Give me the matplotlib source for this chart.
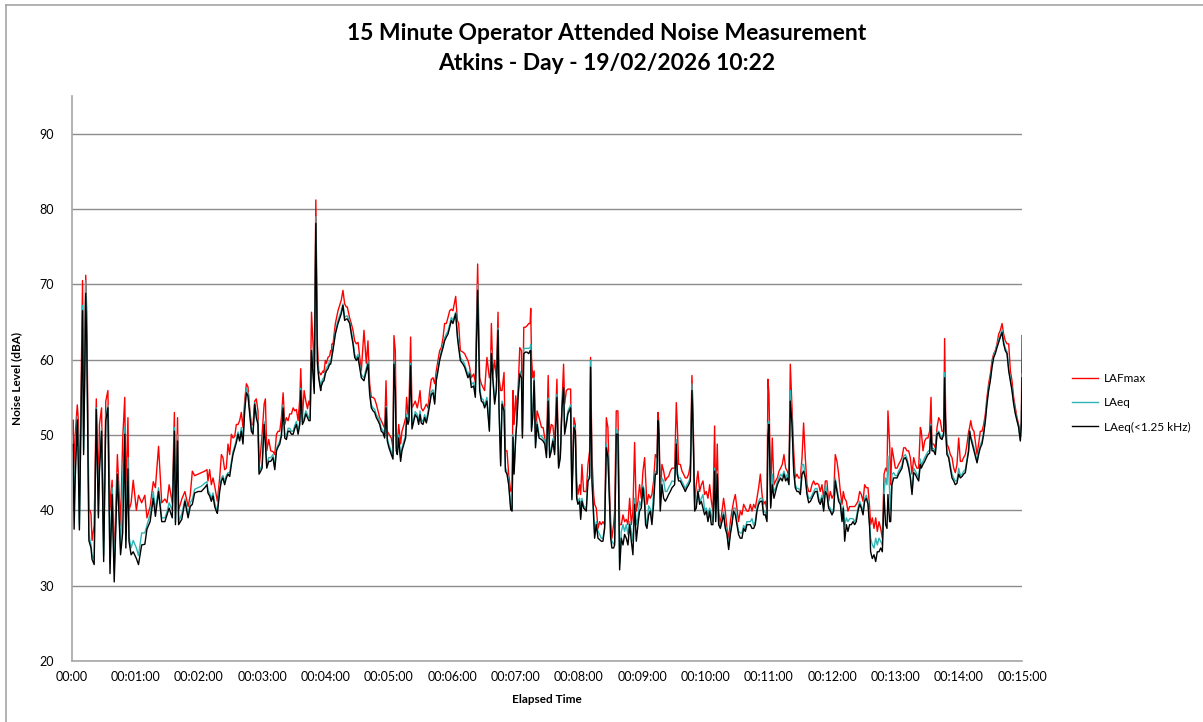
import matplotlib
matplotlib.use('Agg')
import matplotlib.pyplot as plt
from matplotlib.lines import Line2D
from matplotlib.ticker import FixedLocator, FuncFormatter

t_sec = [
    0, 1, 2, 3, 5, 6, 7, 8, 10, 11, 12, 13, 14, 16, 17, 18, 19, 21, 23, 25,
    26, 28, 30, 32, 34, 36, 38, 40, 43, 46, 48, 50, 51, 53, 54, 56, 58, 61, 63, 66,
    69, 71, 74, 77, 79, 82, 85, 88, 90, 92, 95, 97, 98, 100, 101, 104, 107, 110, 112, 114,
    116.2, 119.4, 122.5, 125.7, 127.9, 128.8, 130.4, 132, 133.6, 135.2, 136.7, 137.7, 139.9, 141.5, 143, 144.6, 146.2, 147.8, 149.4, 151,
    152.5, 154.1, 155.7, 157.3, 158.8, 160.4, 162, 163.6, 165.2, 166.7, 168.3, 169.9, 171.5, 173.1, 174.6, 176.2, 177.2, 178.8, 180.1, 182,
    183.2, 184.5, 186.4, 188.3, 190.4, 192.1, 193.7, 195.2, 196.8, 198.4, 200, 201.6, 203.1, 204.7, 206.3, 207.9, 209.5, 211.1, 212.6, 214.2,
    215.8, 216.7, 218.3, 219.9, 221.5, 223.1, 224.4, 225.6, 226.9, 228.5,
    229.5, 231, 232.5, 233.7, 235.6, 236.2, 237.8, 238.7, 240, 241, 242.5, 244.1, 245, 245.7, 246.3, 247.2, 249.5, 252, 255.1, 256.7,
    258.3, 259.9, 260.8, 263.1, 264.6, 266.2, 267.8, 269.4, 271, 274.1, 276.6, 278.8, 280.4, 282, 283.6, 285.2, 286.7, 288.3, 289.9, 291.5,
    293, 294.6, 296.2, 297.5, 298.7, 300.3, 302.5, 304.1, 305, 306.3, 307.2, 308.2, 309.5, 311.3, 312.6, 314.5, 316.1, 317, 318.3, 319.2,
    320.8, 322.1, 323.9, 325.2, 327.1, 328.4, 329.7, 330.9, 332.5, 334.1, 335.7, 337.3, 338.9, 340.4, 342,
    343.6, 345.1, 346.7, 348.3, 349.9, 351.5, 353, 354.6, 356.2, 357.8, 359.4, 360.9, 363.5, 365.1, 366.3, 367.9, 370.4, 372, 373.6, 375.1,
    376.7, 378.3, 380.5, 382.1, 384.3, 386.2, 387.8, 389.4, 390.9, 393.1, 395.4, 396.3, 397.3, 398.8, 400.4, 402, 403.6, 404.5, 406.1, 407.4,
    409.3, 410.6, 412.1, 413.7, 415.6, 416.9, 417.8, 418.8, 420.4, 421.3, 422.6, 424.2, 425.8, 426.7, 428, 429.6, 431.1, 432.7, 434, 434.6,
    435.3, 436.5, 437.8, 439.1, 440.6, 442.5, 444.8, 446.3, 447.9, 449.5, 451.1,
    452.5, 454.1, 455.6, 457.2, 459.4, 461, 462.6, 464.2, 465.7, 466.7, 468.3, 469.8, 472.4, 473.6, 475.5, 476.8, 478.1, 479.3, 480.9, 481.9,
    483.1, 484.7, 487.2, 488.8, 490.4, 491.3, 492.6, 494.2, 495.1, 496.7, 498.3, 499.9, 501.4, 503, 504.6, 506.2, 507.7, 509.3, 510.3, 511.5,
    513.1, 514.1, 515.6, 517.2, 518.8, 520.4, 522, 523.5, 525.1, 526.7, 528.3, 529.9, 531.4, 533, 534.6, 536.2, 537.7, 539.3, 540.9, 542.5,
    543.4, 544.7, 546.3, 547.8, 549.4, 551, 552.6, 554.2, 555.1, 556.1, 557.3, 558.9, 560.5, 562.1, 563.6, 565.2, 566.8, 568.4,
    570.9, 572.5, 573.4, 574.7, 576.3, 577.9, 579.4, 581, 582.6, 584.2, 585.8, 587.3, 588.3, 589.9, 591.4, 593, 594.6, 596.2, 597.8, 599.3,
    600.9, 602.5, 604.1, 605.7, 607.2, 608.8, 609.8, 611.3, 612.6, 614.2, 615.8, 617.3, 618.9, 620.5, 622.1, 623.7, 625.2, 626.8, 628.4, 630,
    631.5, 633.1, 634.7, 636.3, 637.9, 639.4, 641, 642.6, 644.2, 645.8, 647.3, 648.9, 650.5, 652.1, 653.7, 655.2, 656.8, 658.4, 659.3, 660.3,
    661.9, 663.4, 665, 666.6, 668.2, 669.8, 671.3, 672.9, 674.5, 676.1, 677.7, 679.2, 680.5, 682.1,
    683.7, 685.2, 686.8, 688.4, 690, 691.6, 693.1, 694.7, 696.3, 697.9, 699.5, 701, 702.6, 704.2, 705.8, 707.4, 708.9, 710.5, 712.1, 713.7,
    715.2, 716.8, 718.4, 720, 721.6, 723.1, 724.7, 726.3, 727.9, 729.5, 730.7, 732, 733.6, 735.1, 736.7, 738.3, 739.9, 741.5, 743, 744.6,
    746.2, 747.8, 749.4, 750.9, 752.5, 754.1, 755.7, 756.6, 758.2, 759.8, 761.4, 762.9, 764.5, 766.1, 767.7, 769.3, 770.8, 772.1, 773, 774.6,
    775.6, 776.8, 778.4, 780, 781.6, 783.1, 784.7, 786.3, 787.9, 789.5, 791, 792.6, 794.2, 795.8,
    797.4, 798.9, 800.5, 802.1, 803.7, 804.6, 806.2, 807.8, 809.4, 810.9, 812.5, 813.8, 814.7, 816.3, 817.9, 819.5, 821.1, 822.6, 824.2, 825.8,
    826.7, 827.7, 828.9, 830.5, 832.1, 833.7, 835.3, 836.8, 838.4, 840, 841.6, 843.2, 844.7, 846.3, 847.9, 849.5, 850.4, 851.4, 852.9, 854.5,
    856.1, 857.4, 858.9, 860.5, 862.1, 863.7, 865.3, 866.8, 868.4, 870, 871.6, 873.2, 874.7, 876.3, 877.9, 879.5, 881.1, 882.6, 884.2, 885.8,
    887.4, 889, 890.5, 892.1, 893.7, 895.3, 896.8, 898.4, 899.4, 900,
]

lafmax = [
    50, 52, 45, 50, 54, 52, 42, 50, 70.5, 50, 60, 71.2, 66, 40, 40, 39.5, 36, 38, 54.8, 42,
    51.4, 53.6, 36, 54.5, 55.9, 40, 44, 33.6, 47.4, 38, 49.4, 55, 42, 52.3, 40, 41, 44, 40, 42, 41,
    42, 39, 40.5, 43.8, 43, 48.5, 41, 41.5, 41, 43.4, 41, 53, 40, 52.3, 40, 41.5, 42.5, 40.5, 42, 45.2,
    44.6, 44.8, 45, 45.2, 45.4, 43.9, 45.4, 43.4, 44.3, 43.2, 42, 41.2, 44.3, 47.4, 47, 45.4, 45.6, 48.8, 47.4, 50.1,
    49.6, 49.8, 51.4, 51.4, 51.9, 53, 51, 54.5, 56.8, 56.4, 53.6, 51.4, 51.4, 54.5, 54.8, 53.2, 45.6, 47.9, 50.1, 54.1,
    54.8, 47.9, 49.4, 47.9, 47.8, 47.4, 50.1, 50.5, 50.5, 52.3, 55.6, 51.4, 52.3, 51.9, 52.8, 52.8, 53.6, 53.2, 53.4, 51.9,
    54.8, 58.8, 52.3, 55.9, 54.5, 53.5, 54.5, 54, 66.3, 61.6,
    59, 81.2, 62, 58.5, 58, 58.1, 58.5, 58.3, 59.9, 59.5, 60.3, 60.5, 61.2, 61, 62.1, 62, 64.8, 66.5, 67.9, 69.2,
    67.4, 67, 67, 65.5, 64.8, 63.9, 62.5, 62.1, 62.3, 58.5, 63.9, 59.5, 62.5, 56.8, 55, 55, 54.8, 54.1, 53.2, 52.3,
    51.9, 51.4, 50.9, 57.2, 50.5, 50.1, 49.6, 48.3, 63.2, 61.2, 50.1, 48.8, 51.4, 48.8, 50.5, 51.4, 52.3, 55, 52.7, 53.6,
    63, 53.6, 54.1, 54.5, 53.6, 54.5, 55.9, 53.6, 53.2, 53.6, 54.1, 53.6, 55.9, 57.4, 57.6,
    56.8, 58.5, 59.9, 61.2, 61.6, 62.9, 64.8, 64.8, 65.6, 66.5, 66.7, 66.5, 68.4, 65.2, 64.8, 61.2, 61, 60.8, 60.3, 59.9,
    59, 57.6, 58.1, 57, 72.7, 57.6, 56.8, 56.3, 55.9, 60.3, 57.6, 57.6, 64.8, 58, 59.9, 57.6, 66.3, 57.6, 55.9, 55.9,
    58.3, 47.9, 47.9, 44.8, 42.5, 43, 55.9, 51.4, 55.2, 52.5, 56, 61.6, 61.2, 50.5, 64.3, 64.3, 64.5, 64.8, 64.8, 66.8,
    60.3, 57.6, 58.5, 49.6, 53.2, 52.3, 51, 51, 49.6, 47.9, 57.9,
    50.1, 51.4, 51.2, 48.8, 57.4, 46.1, 47.4, 54.1, 59.4, 54.1, 55.9, 56.1, 56.1, 42.5, 52.3, 51.4, 43.9, 42.1, 43.4, 42.1,
    46.1, 42.5, 42.5, 46.1, 47.9, 60.3, 47, 42.1, 40.8, 40.3, 37.6, 38.5, 38.1, 38.5, 38.1, 52.3, 51, 42.5, 38.5, 36.3,
    38.1, 39.9, 53.2, 53.2, 38.1, 38.1, 39.4, 38.5, 38.8, 38.1, 41.6, 38.1, 39.9, 49, 39.9, 41.2, 43.4, 41.6, 45.2, 47,
    44.3, 40.8, 42.1, 41.6, 42.1, 43.9, 47.4, 47, 53, 51.4, 41.6, 46.1, 45.2, 43.9, 44.3, 44.5, 45.2, 45.6,
    45.6, 54.3, 51.4, 46.1, 46.1, 45.2, 44.8, 44.3, 44.3, 44.8, 46.1, 57.9, 53.6, 40.8, 43.4, 45.2, 42.5, 43.4, 43.9, 42.1,
    42.5, 41.6, 43.4, 41.2, 39.9, 51.2, 40.3, 48.8, 39.9, 38.1, 39.9, 41.6, 39.9, 37.6, 36.3, 38.5, 39.9, 41.2, 42.1, 40.3,
    38.5, 39.9, 39.4, 40.8, 40.3, 39.9, 39.9, 40.8, 39.9, 40.8, 40.3, 41.6, 43, 44.8, 42.1, 40.8, 41.2, 39.9, 57.4, 55.4,
    42.1, 49.6, 43.4, 43.9, 44.3, 45.2, 45.6, 46.1, 47.4, 45.6, 45.2, 44.3, 59.4, 53.6,
    47.9, 44.3, 44.8, 44.3, 44.3, 47, 51.6, 47, 43.4, 42.5, 42.5, 43.4, 43.9, 43.4, 43.6, 43.4, 42.5, 43.4, 41.6, 43.9,
    43.9, 41.2, 42.5, 41.6, 42.1, 47.4, 46.5, 44.8, 42.5, 40.8, 42.5, 41.6, 41.2, 39.9, 40.5, 40.5, 40.5, 40.5, 40.8, 41.2,
    42.5, 42.1, 41.2, 43.4, 43, 43, 40.3, 38.1, 39, 37.6, 39, 37.2, 38.5, 37.6, 36.3, 44.8, 45.6, 45.2, 53.2, 48.8,
    43.4, 48.3, 47, 45.6, 45.6, 46.1, 46.5, 47, 48.3, 48.3, 47.9, 47.9, 47, 44.8,
    47, 46.1, 45.6, 45.6, 51, 50.5, 47.9, 49.2, 49.6, 49.6, 50.5, 55, 48.8, 48.8, 48.3, 51, 52.3, 51.9, 50.5, 50.5,
    62.8, 52.3, 48.8, 48.3, 47.4, 47, 45.6, 45, 46.1, 49.6, 46.5, 46.5, 47, 47.4, 48.8, 50.5, 51, 51.9, 50.8, 50.5,
    48.8, 47.4, 48.8, 50.5, 50.5, 51.4, 52.8, 55, 56.8, 58.1, 59.9, 60.8, 61.2, 62.1, 63.4, 63.9, 64.8, 63.4, 62.5, 62.1,
    62.1, 58.5, 57.2, 55, 53.6, 52.3, 51.4, 50.1, 51.8, 63.2,
]

laeq = [
    48.5, 48.8, 40, 46, 52.5, 48, 38, 48, 67.2, 48, 58, 70.5, 64, 37, 36, 35.5, 34, 33.5, 53.6, 39.5,
    46, 51, 34, 52.5, 54, 33, 43, 32, 45, 35, 44, 51, 36, 47, 36.5, 35, 36, 35, 34, 37,
    37, 38, 39.5, 42.5, 40, 43, 39, 39, 39.8, 41, 40, 51, 38.5, 50, 38.5, 39.5, 41.5, 39.5, 41, 41.5,
    42.8, 43, 43.2, 43.6, 43.8, 42.6, 42.3, 41.6, 42.3, 41, 40.2, 40, 43, 44.3, 44.6, 43.8, 44.6, 45, 45, 46.5,
    47.8, 48.5, 49.4, 50.4, 49.5, 51, 49.6, 53.6, 56.2, 55.6, 53.2, 50.9, 50.4, 54.3, 52.8, 51.8, 45.2, 45.6, 46, 51.8,
    49.2, 46, 47, 47, 47.4, 45.8, 48.2, 48.7, 49.2, 50.2, 54, 50, 49.8, 50.9, 50.9, 50.5, 50.5, 51.3, 51.8, 50.5,
    51.8, 56.2, 51.8, 52.3, 53.2, 52.7, 52.3, 52.3, 61.5, 58,
    56, 79, 60, 58, 56.3, 57, 57.5, 57.6, 58.5, 58.9, 59.2, 59.8, 59.8, 60.2, 60.8, 61.5, 63.8, 65.2, 66.5, 67.4,
    65.6, 65.8, 65.8, 65, 63.8, 62.5, 60.7, 60.2, 60.7, 58, 57.6, 58.9, 59.8, 55.8, 54, 53.6, 53.4, 52.7, 52.3, 51.8,
    50.9, 50.6, 50, 53.8, 49.6, 48.7, 47.8, 47.2, 59.8, 56.3, 48.3, 47.8, 50, 47, 48.3, 49.2, 50, 52.7, 51.8, 52.3,
    59.5, 51.2, 52.3, 53.1, 52.7, 51.8, 53.2, 52, 51.8, 52.7, 52, 53.1, 54.5, 55.8, 56,
    54.5, 57.6, 58.9, 60.2, 61.2, 62, 62.9, 63.4, 63.8, 64.7, 65.6, 65.2, 66.3, 63.4, 62, 60.3, 59.8, 59.4, 58.7, 58,
    58.5, 56.7, 57, 55.4, 70, 56.3, 54.9, 54.7, 54, 55, 50.9, 56.3, 61.2, 57.6, 54.5, 56.3, 64.2, 54, 46.3, 54.5,
    53.6, 45.6, 45.2, 43.8, 40.5, 40.2, 50.1, 45.2, 50.1, 51.8, 55.4, 58.5, 58, 50, 61.5, 61.5, 61.5, 61.5, 61.6, 62,
    51, 52.7, 57.6, 48.7, 51.8, 50, 49.8, 49.6, 49.2, 47.4, 54.9,
    47.4, 48.3, 49.5, 47.8, 55.4, 45.8, 47.2, 53.8, 56.3, 50.5, 51.8, 53.2, 54, 41.7, 51.3, 50.8, 42, 41.2, 41.6, 39.2,
    41.6, 40.6, 40.2, 44.3, 44.6, 59.9, 44.3, 39.6, 37, 38.5, 37.2, 36.8, 36.3, 36.3, 37.8, 48.8, 47.4, 41, 36.5, 35.9,
    35.5, 35.8, 50.8, 50.5, 33, 37.2, 38.1, 37.2, 38.1, 36.8, 38.5, 37.2, 35.9, 41.6, 38.1, 39, 41.2, 40.5, 43.3, 42.5,
    39, 38, 40.6, 40.2, 39.2, 42.5, 45.2, 45, 51.9, 50.6, 40.3, 44.3, 43.9, 42.5, 42.5, 43, 43.4, 43.9,
    43.8, 49.4, 45.2, 44.3, 44.3, 43.8, 43.4, 42.9, 43.4, 43.8, 44.3, 56.8, 51.8, 40.3, 40.6, 42.8, 41.1, 41.6, 42.1, 40,
    40.3, 39.4, 40.3, 39.4, 38.5, 45.6, 38.9, 45.2, 38.5, 37.8, 38.9, 39.8, 38, 37.2, 35.2, 37.2, 38.5, 40.3, 40.3, 38.5,
    37.2, 37, 37, 38, 37.6, 38.5, 38.5, 38.5, 38.9, 38, 38.5, 40.3, 41.2, 41.6, 41.6, 39.8, 39.8, 38.9, 51.6, 51.8,
    40.6, 44.8, 42.5, 42.9, 43.8, 44.3, 44.8, 44.5, 45.2, 44.3, 44.8, 43.8, 55.9, 51.8,
    45.6, 43.4, 42.9, 42.9, 42.5, 46.1, 46.1, 44.6, 42.5, 41.6, 41.6, 42, 42.5, 42.9, 42.9, 41.6, 41.2, 42, 40.3, 43.4,
    42.5, 40.6, 40.3, 39.8, 40.3, 44.3, 42.9, 41.6, 41.2, 38.9, 40.6, 38, 39, 38.5, 38.9, 38.9, 38.9, 38.5, 39, 40.3,
    41.2, 40.6, 39.8, 41.6, 42, 41.2, 38.1, 36.3, 35.4, 35, 36.3, 35.4, 36.3, 35.9, 35.4, 42.5, 44.3, 43.4, 47.2, 42.5,
    40, 44.8, 45, 44.6, 44.6, 45.2, 45.6, 46, 47.2, 47.4, 46.9, 46, 44.7, 42.5,
    45.6, 45.2, 44.8, 44.3, 46.8, 46, 46.5, 47, 47.4, 47.8, 48, 51.4, 48.2, 48.2, 47.8, 50.4, 50.5, 50, 49.6, 50.4,
    58.3, 50.8, 47.8, 47.2, 46, 44.8, 44.3, 43.9, 43.9, 45.6, 44.6, 44.8, 45.2, 45.4, 46.8, 48.3, 50.6, 49.8, 49.2, 48.3,
    47.4, 46.5, 47.8, 48.7, 49.2, 50.5, 52.2, 54.4, 56.2, 57.5, 59.3, 60.6, 61.1, 61.9, 62.6, 63.3, 63.9, 62.4, 61.5, 61.1,
    58.8, 57.5, 56.2, 54.4, 53.1, 52, 51.2, 49.4, 51.6, 58.1,
]

laeq_lf = [
    48, 48.8, 37.5, 44, 52, 46, 37.4, 47.4, 66.5, 47.4, 57, 68.8, 62, 36, 35.5, 35, 33.5, 32.8, 53.4, 39,
    45.2, 50.5, 33.2, 51.9, 53.6, 31.6, 42.1, 30.5, 44.8, 34.1, 37, 50.1, 35, 45.5, 35.9, 34.1, 34.5, 33.6, 32.8, 35.4,
    35.5, 37.5, 38.5, 41.6, 39.2, 42.5, 38.5, 38.5, 39.4, 40.3, 39, 50.5, 38.1, 49.2, 38.1, 38.8, 41.2, 39, 40.5, 40.8,
    42.3, 42.5, 42.5, 43, 43.4, 42.3, 41.9, 41.2, 41.9, 40.5, 39.9, 39.6, 42.5, 43.9, 44.3, 43.4, 44.3, 44.8, 44.5, 46.1,
    47.4, 48.2, 49, 50.1, 49.2, 50.5, 48.8, 53.2, 55.6, 55.2, 52.8, 50.5, 50.1, 54.1, 52.3, 51.4, 44.8, 45.2, 45.6, 51.4,
    48.8, 45.6, 46.5, 46.5, 47, 45.4, 47.9, 48.4, 48.8, 49.9, 53.6, 49.6, 49.4, 50.5, 50.5, 50.1, 50.1, 50.9, 51.4, 50.1,
    51.4, 55.9, 51.4, 51.9, 52.8, 52.3, 51.9, 51.9, 61.2, 57.6,
    55.5, 78.1, 59.5, 57.6, 55.9, 56.5, 57.1, 57.2, 58.1, 58.5, 58.8, 59.4, 59.4, 59.9, 60.5, 61.2, 63.4, 64.8, 66.1, 67.2,
    65.2, 65.4, 65.4, 64.8, 63.4, 62.1, 60.3, 59.9, 60.3, 57.6, 57.2, 58.5, 59.4, 55.4, 53.6, 53.2, 53, 52.3, 51.9, 51.4,
    50.5, 50.3, 49.6, 53.6, 49.2, 48.3, 47.4, 46.8, 59.4, 55.9, 47.9, 47.4, 49.6, 46.5, 47.9, 48.8, 49.6, 52.3, 51.4, 51.9,
    59.2, 50.8, 51.9, 52.7, 52.3, 51.4, 52.7, 51.6, 51.4, 52.3, 51.6, 52.7, 54.1, 55.4, 55.6,
    54.1, 57.2, 58.5, 59.9, 60.8, 61.6, 62.5, 63, 63.4, 64.3, 65.2, 64.8, 66.1, 63, 61.6, 59.9, 59.4, 59, 58.3, 57.6,
    58.1, 56.3, 56.5, 55, 69.2, 55.9, 54.5, 54.3, 53.6, 54.5, 50.5, 55.9, 60.8, 57.2, 54.1, 55.9, 63.9, 53.6, 45.9, 54.1,
    53.2, 45.2, 44.8, 43.4, 40.1, 39.9, 49.7, 44.8, 49.7, 51.4, 55, 58.1, 57.6, 49.6, 60.8, 61, 61, 60.8, 61.2, 61.2,
    50.5, 52.3, 57.2, 48.3, 51.4, 49.6, 49.4, 49.2, 48.8, 47, 54.5,
    47, 47.9, 49.2, 47.4, 55, 45.6, 47, 53.6, 56.3, 50.1, 51.4, 52.8, 53.6, 41.4, 51, 50.5, 41.6, 40.8, 41.2, 38.8,
    41.2, 40.3, 39.9, 43.9, 44.3, 59, 43.9, 39.2, 36.3, 38.1, 36.3, 36.1, 35.9, 35.9, 37.6, 48.3, 47, 40.8, 36.3, 35,
    35, 35.4, 50.1, 50.1, 32.1, 36.3, 35.4, 36.8, 36.3, 35.4, 38.1, 35.9, 34.1, 40.8, 35.9, 38.1, 39.9, 40.3, 43, 40.8,
    38.1, 37.6, 39.4, 39.9, 38.1, 40.8, 44.8, 44.8, 51.9, 50.1, 39.9, 43.4, 41.6, 41.2, 41.6, 42.1, 42.5, 43,
    43.4, 48.8, 44.8, 43.9, 43.9, 43.4, 43, 42.5, 43, 43.4, 43.9, 55.9, 51.4, 39.9, 40.3, 42.5, 40.8, 41.2, 40.3, 39.4,
    39.9, 38.5, 39.9, 38.1, 38.1, 45.2, 38.5, 44.8, 38.1, 37.6, 38.5, 39.4, 37.6, 36.8, 34.8, 36.8, 38.1, 39.9, 39.4, 38.1,
    36.8, 36.3, 36.3, 37.6, 37.2, 38.1, 38.1, 38.1, 37.6, 37.6, 38.1, 39.9, 40.8, 41.2, 41.2, 39.4, 39.4, 38.5, 49.9, 51.4,
    40.3, 43.4, 41.6, 42.5, 43.4, 43.9, 44.3, 43.9, 44.8, 43.9, 44.3, 43.4, 54.5, 51.4,
    45.2, 43, 42.5, 42.5, 42.1, 44.8, 45.2, 44.3, 42.1, 41, 41.2, 41.6, 42.1, 42.5, 42.5, 41.2, 40.8, 41.6, 39.9, 42.5,
    42.1, 40.3, 39.9, 39.4, 39.9, 43.9, 42.5, 41.2, 40.8, 38.5, 40.3, 35.9, 38.1, 37.2, 38.1, 38.1, 38.5, 38.1, 38.5, 39.9,
    40.8, 40.3, 39.4, 41.2, 41.6, 40.8, 37.6, 34.5, 33.6, 34.1, 33.2, 34.5, 34.5, 35, 34.5, 42.1, 38.1, 37.6, 42.1, 38.5,
    38.5, 43.4, 44.3, 44.3, 44.3, 44.8, 45.2, 45.6, 46.8, 47, 46.5, 45.6, 44.3, 42.1,
    45, 44.8, 44.3, 43.9, 46.1, 45.6, 46.1, 46.5, 47, 47.4, 47.6, 51.2, 47.9, 47.9, 47.4, 50.1, 50.3, 49.6, 49.4, 50.1,
    57.6, 50.5, 47.4, 47, 45.6, 44.3, 43.9, 43.4, 43.6, 44.8, 44.3, 44.5, 44.8, 45, 46.5, 47.9, 50.5, 49.6, 48.8, 47.9,
    47, 46.3, 47.4, 48.3, 48.8, 50.1, 51.9, 54.1, 55.9, 57.2, 59, 60.3, 60.8, 61.6, 62.3, 63, 63.6, 62.1, 61.2, 60.8,
    58.5, 57.2, 55.9, 54.1, 52.8, 51.9, 51, 49.2, 51.4, 57.6,
]

series_names = ['LAFmax', 'LAeq', 'LAeq(<1.25 kHz)']
series_colors = ['#FF0000', '#2DB5B5', '#000000']
title_lines = ['15 Minute Operator Attended Noise Measurement', 'Atkins - Day - 19/02/2026 10:22']
x_ticks = list(range(0, 901, 60))
y_ticks = [20, 30, 40, 50, 60, 70, 80, 90]

plt.rcParams['font.family'] = ['Lato', 'DejaVu Sans']

fig = plt.figure(figsize=(12.03, 7.22), dpi=100)
ax = fig.add_axes([72 / 1203, 1 - 661 / 722, 950 / 1203, 565 / 722])

for vals, name, col in zip([lafmax, laeq, laeq_lf], series_names, series_colors):
    ax.plot(t_sec, vals, color=col, lw=1.0, label=name)

ax.set_xlim(0, 900)
ax.set_ylim(20, 95)
ax.xaxis.set_major_locator(FixedLocator(x_ticks))
ax.yaxis.set_major_locator(FixedLocator(y_ticks))


def fmt_time(v, pos):
    v = int(round(v))
    if v == 0:
        return '00:00'
    return '%02d:%02d:%02d' % (v // 3600, (v % 3600) // 60, v % 60)


ax.xaxis.set_major_formatter(FuncFormatter(fmt_time))
ax.tick_params(axis='both', length=0, labelsize=9)
ax.tick_params(axis='y', pad=13)
ax.tick_params(axis='x', pad=7)

ax.grid(axis='y', color='#8C8C8C', lw=1.0)
ax.set_axisbelow(True)
for s in ['top', 'right']:
    ax.spines[s].set_visible(False)
for s in ['left', 'bottom']:
    ax.spines[s].set_color('#A6A6A6')
    ax.spines[s].set_linewidth(1.2)

ax.set_xlabel('Elapsed Time', fontsize=8.5, fontweight='bold', labelpad=8)
ax.set_ylabel('Noise Level (dBA)', fontsize=8.5, fontweight='bold', labelpad=12)

fig.text(0.5045, 1 - 33 / 722, title_lines[0], ha='center', va='center', fontsize=16.5, fontweight='bold')
fig.text(0.5045, 1 - 63 / 722, title_lines[1], ha='center', va='center', fontsize=16.5, fontweight='bold')

fig.legend(loc='center left', bbox_to_anchor=(1066 / 1203, 1 - 403 / 722), frameon=False,
           fontsize=8.5, handlelength=2.2, handletextpad=0.5, labelspacing=1.1, borderpad=0)

# chart-area border (only the left and top edges fall inside the picture)
fig.add_artist(Line2D([6 / 1203, 6 / 1203], [0, 1 - 5 / 722], transform=fig.transFigure, color='#A6A6A6', lw=1.2))
fig.add_artist(Line2D([6 / 1203, 1], [1 - 5 / 722, 1 - 5 / 722], transform=fig.transFigure, color='#A6A6A6', lw=1.2))

fig.savefig('out.png', dpi=100)
